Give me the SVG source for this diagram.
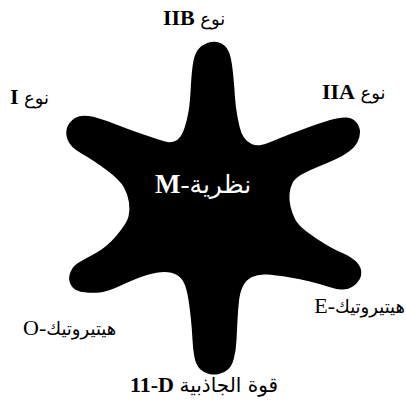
<svg xmlns="http://www.w3.org/2000/svg" width="406" height="403" viewBox="0 0 406 403">
<style>
.lbl { font-family: "Liberation Serif", "DejaVu Sans", serif; font-size: 22px; fill: #000; }
.lat { font-weight: bold; }
.ar { font-family: "DejaVu Sans", sans-serif; font-size: 18px; font-weight: normal; }
.big { font-size: 20px; }
.center { fill: #fff; font-size: 27px; }
.center .ar { font-size: 25px; }
</style>
<rect width="406" height="403" fill="#fff"/>
<g id="m-theory">
<path fill="#000" d="M207.25,43 Q212.5,41 217.25,42 Q222,43 225,46 Q228,49 229.5,53.5 Q231,58 232,65 Q233,72 233.75,81 Q234.5,90 235,97.5 Q235.5,105 236.75,112.5 Q238,120 239.5,126.5 Q241,133 244,137.5 Q247,142 251.5,144 Q256,146 261,145 Q266,144 273,141 Q280,138 286.5,135.5 Q293,133 306.5,128 Q320,123 330,120 Q340,117 346.5,117.5 Q353,118 356.5,122.5 Q360,127 360,132 Q360,137 357.5,142 Q355,147 349,151.5 Q343,156 334,160 Q325,164 317.5,167 Q310,170 302.5,174 Q295,178 292.5,183 Q290,188 289.5,194 Q289,200 290.5,206.5 Q292,213 295,219 Q298,225 306.5,231.5 Q315,238 325,244 Q335,250 342.5,253 Q350,256 355,260.5 Q360,265 361,270 Q362,275 359.5,279.5 Q357,284 352,287 Q347,290 341,289.5 Q335,289 327.5,286.5 Q320,284 310,281.5 Q300,279 287.5,277 Q275,275 266.5,274.5 Q258,274 252,277 Q246,280 243,286 Q240,292 239,301 Q238,310 237.5,320 Q237,330 236.5,340 Q236,350 234,358 Q232,366 228,369.5 Q224,373 219,374 Q214,375 209,374 Q204,373 200,369 Q196,365 194.5,357.5 Q193,350 192.5,340 Q192,330 191,320 Q190,310 188.5,300 Q187,290 184.5,284 Q182,278 177,275 Q172,272 164.5,272 Q157,272 147,275 Q137,278 122,285 Q107,292 100,292.5 Q93,293 86.5,292.5 Q80,292 76,290 Q72,288 70,283 Q68,278 70.5,272 Q73,266 78,263 Q83,260 95,253.5 Q107,247 117,235 Q127,223 128.5,216.5 Q130,210 129,202.5 Q128,195 124,187.5 Q120,180 106.5,170 Q93,160 81.5,153.5 Q70,147 67.5,139.5 Q65,132 67.5,126.5 Q70,121 75,118 Q80,115 88.5,116 Q97,117 113.5,123.5 Q130,130 145,135 Q160,140 165,141.5 Q170,143 174,141.5 Q178,140 180.5,136.5 Q183,133 185,126.5 Q187,120 188.5,111.5 Q190,103 190.85,86.5 Q191.7,70 193.35,61.5 Q195,53 198.5,49 Q202,45 207.25,43 Z"/>
<text class="lbl center" x="155" y="193"><tspan class="lat">M</tspan>-<tspan class="ar">نظرية</tspan></text>
</g>
<g id="type-iib"><text class="lbl" x="163" y="25"><tspan class="lat">IIB</tspan> <tspan class="ar">نوع</tspan></text></g>
<g id="type-iia"><text class="lbl" x="322" y="99"><tspan class="lat">IIA</tspan> <tspan class="ar">نوع</tspan></text></g>
<g id="type-i"><text class="lbl" x="10" y="104"><tspan class="lat">I</tspan> <tspan class="ar">نوع</tspan></text></g>
<g id="heterotic-e"><text class="lbl" x="405" y="313" text-anchor="end"><tspan>E</tspan>-<tspan class="ar">هيتيروتيك</tspan></text></g>
<g id="heterotic-o"><text class="lbl" x="23" y="335"><tspan>O</tspan>-<tspan class="ar">هيتيروتيك</tspan></text></g>
<g id="sugra-11d"><text class="lbl" x="130" y="392"><tspan class="lat">11-D</tspan> <tspan class="ar big">قوة الجاذبية</tspan></text></g>
</svg>
